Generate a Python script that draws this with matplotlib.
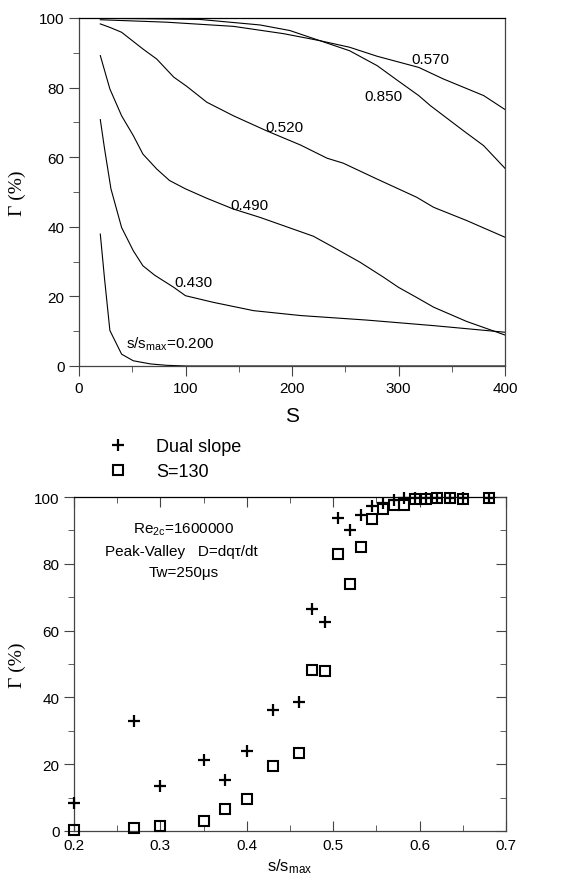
import numpy as np
import matplotlib
matplotlib.use('Agg')
import matplotlib.pyplot as plt
from matplotlib.ticker import MultipleLocator

plt.rcParams['font.family'] = ['Liberation Sans', 'DejaVu Sans']
plt.rcParams['mathtext.default'] = 'regular'

# top panel: Gamma vs S for several s/smax
S_850 = [20, 60, 113, 170, 198, 226, 254, 280, 298, 319, 330, 361, 380, 400]
G_850 = [99.9, 99.8, 99.6, 98.0, 96.4, 93.5, 90.6, 86.3, 82.3, 77.7, 74.8, 67.6, 63.3, 56.8]

S_570 = [20, 82, 145, 192, 226, 254, 280, 319, 342, 380, 400]
G_570 = [99.5, 98.8, 97.6, 95.5, 93.5, 91.6, 89.0, 85.8, 82.5, 77.7, 73.7]

S_520 = [20, 29, 40, 60, 73, 89, 101, 120, 145, 176, 208, 233, 248, 280, 317, 333, 364, 400]
G_520 = [98.3, 97.3, 95.9, 91.1, 88.2, 83.0, 80.4, 75.8, 71.9, 67.6, 63.5, 59.7, 58.3, 53.7,
         48.5, 45.6, 41.8, 37.0]

S_490 = [20, 29, 40, 51, 60, 73, 85, 100, 120, 145, 170, 195, 220, 239, 264, 286, 300, 317,
         333, 364, 400]
G_490 = [89.2, 79.6, 71.9, 66.2, 60.9, 56.6, 53.3, 50.9, 48.2, 45.1, 42.7, 40.0, 37.3, 34.1,
         29.8, 25.5, 22.6, 19.7, 16.9, 12.8, 8.9]

S_430 = [20, 24, 30, 40, 51, 60, 71, 89, 100, 126, 164, 208, 270, 333, 400]
G_430 = [70.8, 62.4, 50.9, 39.8, 33.1, 28.8, 26.1, 22.6, 20.2, 18.3, 15.9, 14.5, 13.2, 11.6, 9.7]

S_200 = [20, 24, 29, 40, 51, 67, 82, 101, 150, 400]
G_200 = [37.9, 25.0, 10.2, 3.4, 1.5, 0.6, 0.2, 0.0, 0.0, 0.0]

# bottom panel: Gamma vs s/smax
s_ratio = [0.2, 0.27, 0.30, 0.35, 0.375, 0.40, 0.43, 0.46, 0.475, 0.49, 0.505, 0.52, 0.532,
           0.545, 0.558, 0.570, 0.582, 0.595, 0.607, 0.62, 0.635, 0.65, 0.68]
dual_slope = [8.5, 32.9, 13.5, 21.3, 15.4, 24.1, 36.1, 38.7, 66.6, 62.7, 93.8, 90.0, 94.5,
              97.4, 98.3, 99.2, 99.7, 99.8, 99.8, 99.8, 99.8, 99.8, 99.8]
s130 = [0.2, 1.0, 1.4, 2.9, 6.5, 9.7, 19.5, 23.4, 48.1, 47.9, 83.0, 74.1, 85.1,
        93.4, 96.5, 97.5, 97.5, 99.5, 99.5, 99.7, 99.7, 99.5, 99.8]

fig = plt.figure(figsize=(5.7, 8.78), dpi=100)
tick_col = '#444444'

# ---- top
ax1 = fig.add_axes([79/570, 1-367/878, 426/570, 348/878])
for S, G in [(S_850, G_850), (S_570, G_570), (S_520, G_520),
             (S_490, G_490), (S_430, G_430), (S_200, G_200)]:
    ax1.plot(S, G, color='black', lw=0.8)

fs_lab = 11
ax1.text(330, 88.2, '0.570', ha='center', va='center', fontsize=fs_lab)
ax1.text(286, 77.7, '0.850', ha='center', va='center', fontsize=fs_lab)
ax1.text(193, 68.8, '0.520', ha='center', va='center', fontsize=fs_lab)
ax1.text(160, 46.4, '0.490', ha='center', va='center', fontsize=fs_lab)
ax1.text(107, 24.2, '0.430', ha='center', va='center', fontsize=fs_lab)
ax1.text(44, 6.6, 's/s$_{max}$=0.200', ha='left', va='center', fontsize=fs_lab)

ax1.set_xlim(0, 400)
ax1.set_ylim(0, 100)
ax1.xaxis.set_major_locator(MultipleLocator(100))
ax1.xaxis.set_minor_locator(MultipleLocator(50))
ax1.yaxis.set_major_locator(MultipleLocator(20))
ax1.yaxis.set_minor_locator(MultipleLocator(10))
ax1.tick_params(which='both', direction='out', labelsize=11, color=tick_col)
ax1.tick_params(which='major', length=7)
ax1.tick_params(which='minor', length=4)
ax1.set_xlabel('S', fontsize=15)
ax1.xaxis.set_label_coords(0.5, -0.115)
ax1.set_ylabel('Γ (%)', fontsize=14, family='Liberation Serif')
ax1.yaxis.set_label_coords(-0.125, 0.5)
for sp in ax1.spines.values():
    sp.set_color(tick_col)
    sp.set_linewidth(0.9)
ax1.spines['top'].set_color('black')

# ---- bottom
ax2 = fig.add_axes([74/570, 1-832/878, 432/570, 334/878])
h1, = ax2.plot(s_ratio, dual_slope, ls='none', marker='+', ms=8, mew=1.6,
               color='black', label='Dual slope', clip_on=False, zorder=4)
h2, = ax2.plot(s_ratio, s130, ls='none', marker='s', ms=6.5, mew=1.5,
               mfc='none', mec='black', label='S=130', clip_on=False, zorder=4)
ax2.set_xlim(0.2, 0.7)
ax2.set_ylim(0, 100)
ax2.set_xticks(np.arange(0.2, 0.71, 0.1))
ax2.set_xticklabels(['0.2', '0.3', '0.4', '0.5', '0.6', '0.7'])
ax2.xaxis.set_minor_locator(MultipleLocator(0.05))
ax2.yaxis.set_major_locator(MultipleLocator(20))
ax2.yaxis.set_minor_locator(MultipleLocator(10))
ax2.tick_params(axis='x', which='both', direction='in', top=True, labelsize=11,
                color=tick_col, pad=5)
ax2.tick_params(axis='y', which='both', direction='out', labelsize=11, color=tick_col)
ax2.tick_params(which='major', length=7)
ax2.tick_params(which='minor', length=4)
ax2.set_xlabel('s/s$_{max}$', fontsize=12)
ax2.xaxis.set_label_coords(0.5, -0.075)
ax2.set_ylabel('Γ (%)', fontsize=14, family='Liberation Serif')
ax2.yaxis.set_label_coords(-0.11, 0.5)
for sp in ax2.spines.values():
    sp.set_color(tick_col)
    sp.set_linewidth(0.9)
ax2.spines['top'].set_color('black')

# inward ticks on right side
axr = ax2.twinx()
axr.set_ylim(0, 100)
axr.yaxis.set_major_locator(MultipleLocator(20))
axr.yaxis.set_minor_locator(MultipleLocator(10))
axr.tick_params(which='both', direction='in', labelright=False, color=tick_col)
axr.tick_params(which='major', length=7)
axr.tick_params(which='minor', length=4)
for sp in axr.spines.values():
    sp.set_visible(False)

ax2.text(0.327, 90.5, 'Re$_{2c}$=1600000', ha='center', va='center', fontsize=11)
ax2.text(0.324, 83.7, 'Peak-Valley   D=dqτ/dt', ha='center', va='center', fontsize=11)
ax2.text(0.327, 77.5, 'Tw=250μs', ha='center', va='center', fontsize=11)

fig.legend(handles=[h1, h2], loc='upper left', bbox_to_anchor=(98/570, 1-430/878),
           frameon=False, fontsize=13, handlelength=1.2, handletextpad=1.5,
           labelspacing=0.45, borderpad=0)

fig.savefig('out.png', dpi=100)
